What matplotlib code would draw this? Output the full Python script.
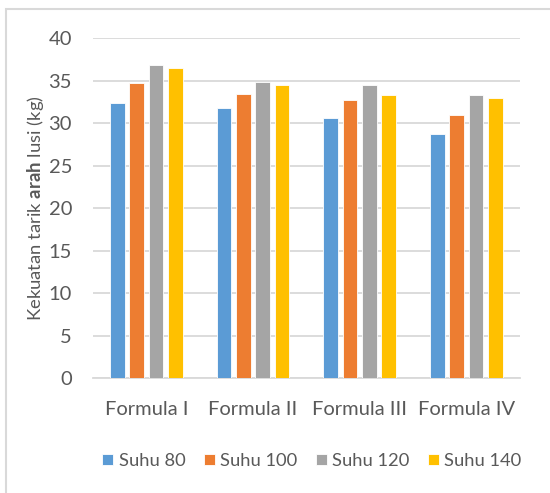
import numpy as np
import matplotlib
matplotlib.use("Agg")
import matplotlib.pyplot as plt
from matplotlib.patches import Rectangle

plt.rcParams['font.family'] = ['Lato', 'DejaVu Sans']
plt.rcParams['mathtext.fontset'] = 'custom'
plt.rcParams['mathtext.rm'] = 'Lato'
plt.rcParams['mathtext.bf'] = 'Lato:bold'

categories = ['Formula I', 'Formula II', 'Formula III', 'Formula IV']
series = ['Suhu 80', 'Suhu 100', 'Suhu 120', 'Suhu 140']
suhu_80 = [32.4, 31.8, 30.6, 28.7]
suhu_100 = [34.7, 33.4, 32.7, 31.0]
suhu_120 = [36.8, 34.8, 34.5, 33.3]
suhu_140 = [36.5, 34.5, 33.3, 33.0]
values = [suhu_80, suhu_100, suhu_120, suhu_140]
colors = ['#5B9BD5', '#ED7D31', '#A5A5A5', '#FFC000']
text_color = '#595959'

fig = plt.figure(figsize=(5.5, 4.93), dpi=100)
ax = fig.add_axes([0.169, 0.2327, 0.776, 0.6903])

x = np.arange(len(categories))
width = 0.138
step = 0.182
for i, (name, vals) in enumerate(zip(series, values)):
    ax.bar(x + (i - 1.5) * step, vals, width, color=colors[i], label=name,
           edgecolor='white', linewidth=0.6, zorder=3)

ax.set_xlim(-0.5, 3.5)
ax.set_ylim(0, 40)
ax.set_yticks(range(0, 41, 5))
ax.set_xticks(x)
ax.set_xticklabels(categories)
ax.grid(axis='y', color='#D9D9D9', linewidth=1.3, zorder=0)
for s in ['top', 'right', 'left']:
    ax.spines[s].set_visible(False)
ax.spines['bottom'].set_color('#D9D9D9')
ax.spines['bottom'].set_linewidth(1.3)
ax.tick_params(axis='both', length=0, colors=text_color, labelsize=14.5)
ax.tick_params(axis='x', pad=16)
ax.tick_params(axis='y', pad=15)

ax.set_ylabel('Kekuatan tarik $\\bf{arah}$ lusi (kg)', color=text_color,
              fontsize=13.3)
ax.yaxis.set_label_coords(-0.11, 0.50)

fig.legend(loc='center', bbox_to_anchor=(0.567, 0.065), ncol=4, frameon=False,
           fontsize=13.2, handlelength=0.6, handleheight=0.6, handletextpad=0.3,
           columnspacing=1.0, labelcolor=text_color)

fig.patches.append(Rectangle((6 / 550, -0.1), 1.2, 1 - 9 / 493 + 0.1,
                             transform=fig.transFigure, fill=False,
                             edgecolor='#D9D9D9', linewidth=1.5))

fig.savefig('out.png', dpi=100)
